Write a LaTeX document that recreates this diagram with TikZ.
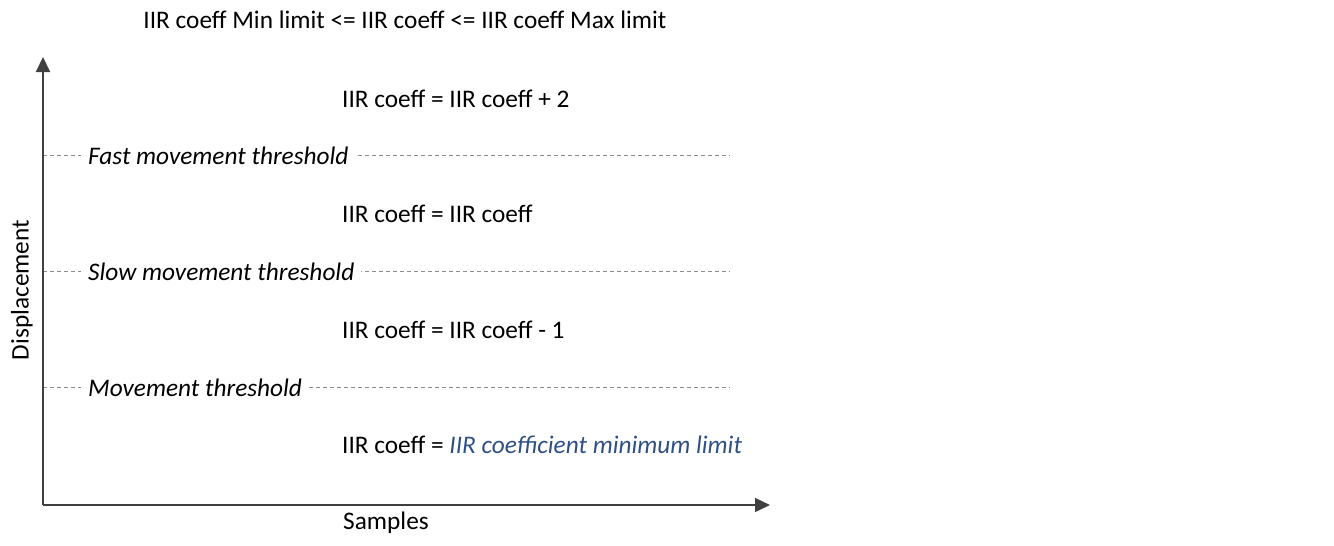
\documentclass[tikz,border=0pt]{standalone}
\usepackage{fontspec}
\setmainfont{Carlito}
\usetikzlibrary{arrows.meta}
\definecolor{axisgray}{RGB}{165,165,165}
\definecolor{tipgray}{RGB}{64,64,64}
\definecolor{dashgray}{RGB}{140,140,140}
\definecolor{limblue}{RGB}{47,80,135}
\tikzset{
  txt/.style={font=\fontsize{25.3}{30}\selectfont, inner sep=0pt, anchor=west},
  lbl/.style={font=\fontsize{25.3}{30}\selectfont\itshape, inner xsep=7pt, inner ysep=2pt, fill=white, anchor=west},
  axis/.style={line width=2pt, -{Triangle[length=15pt,width=14pt]}},
  thr/.style={dashgray, line width=0.7pt, dash pattern=on 4pt off 3pt}
}
\begin{document}
\begin{tikzpicture}[x=1pt,y=-1pt]
\useasboundingbox (0,0) rectangle (1334,546);
\coordinate (O) at (43,505);
\coordinate (Ytop) at (43,57);
\coordinate (Xend) at (770,505);
% dashed thresholds
\foreach \y/\n in {155/a,271/b,387/c}{
  \coordinate (l\n) at (43,\y);
  \coordinate (r\n) at (730,\y);
  \draw[thr] (l\n) -- (r\n);
}
\node[lbl] (fast) at (81,156) {Fast movement threshold};
\node[lbl] (slow) at (81,272) {Slow movement threshold};
\node[lbl] (mov) at (81,388) {Movement threshold};
% axes
\draw[axis, draw=axisgray, tipgray] (O) -- (Ytop);
\draw[axis, line width=1.3pt, draw=gray!90!black, tipgray] (O) -- (Xend);
% texts
\node[txt, anchor=center] (title) at (405,20) {IIR coeff Min limit <= IIR coeff <= IIR coeff Max limit};
\node[txt] (t1) at (342,99) {IIR coeff = IIR coeff + 2};
\node[txt] (t2) at (342,214) {IIR coeff = IIR coeff};
\node[txt] (t3) at (342,330) {IIR coeff = IIR coeff - 1};
\node[txt] (t4) at (342,445) {IIR coeff = \textcolor{limblue}{\itshape IIR coefficient minimum limit}};
\node[txt, anchor=center, rotate=90] (disp) at (22,290) {Displacement};
\node[txt, anchor=center] (samp) at (386,523) {Samples};
\end{tikzpicture}
\end{document}
